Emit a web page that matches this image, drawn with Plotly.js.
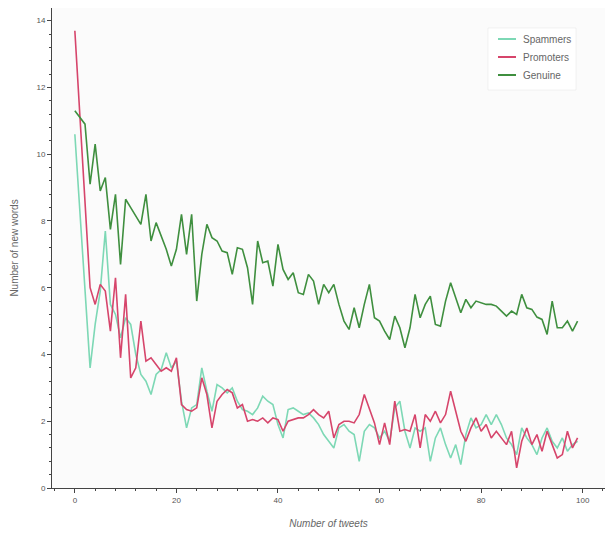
<!DOCTYPE html>
<html>
<head>
<meta charset="utf-8">
<script src="https://cdn.plot.ly/plotly-3.0.1.min.js"></script>
<style>html,body{margin:0;padding:0;background:#fff;}#chart{width:607px;height:535px;}</style>
</head>
<body>
<div id="chart"></div>
<script>
var tweets = [];
for (var k = 0; k < 100; k++) tweets.push(k);

var seriesNames = ["Spammers", "Promoters", "Genuine"];

var spammers = [10.6,8.3,6.0,3.6,4.9,5.9,7.7,5.5,5.2,4.5,
5.1,4.9,4.0,3.4,3.2,2.8,3.4,3.55,4.05,3.6,
3.8,2.6,1.8,2.4,2.5,3.6,2.9,2.3,3.1,3.0,
2.85,3.0,2.6,2.35,2.3,2.2,2.4,2.75,2.6,2.5,
1.9,1.5,2.35,2.4,2.3,2.2,2.25,2.1,1.9,1.6,
1.4,1.2,1.8,1.9,1.7,1.6,0.8,1.7,1.9,1.8,
1.5,1.7,1.4,2.4,2.6,1.7,1.2,1.8,1.7,1.8,
0.8,1.5,1.8,1.3,0.9,1.3,0.7,1.6,2.1,1.8,
1.9,2.2,1.9,2.2,1.9,1.5,1.3,1.0,1.8,1.5,
1.3,1.0,1.5,1.8,1.4,1.2,1.5,1.1,1.3,1.4];

var promoters = [13.7,11.2,8.6,6.0,5.5,6.1,5.9,4.7,6.3,3.9,
5.8,3.3,3.6,5.0,3.8,3.9,3.7,3.5,3.6,3.5,
3.9,2.5,2.35,2.3,2.4,3.3,2.8,1.8,2.6,2.8,
2.95,2.85,2.4,2.5,2.0,2.05,2.0,2.1,1.95,2.1,
2.05,1.7,2.0,2.05,2.1,2.1,2.2,2.35,2.2,2.1,
2.3,1.5,1.9,2.0,2.0,1.95,2.2,2.8,2.4,1.95,
1.3,1.95,1.3,2.6,1.7,1.75,1.7,2.2,1.2,2.2,
2.0,2.3,1.95,2.2,2.9,2.3,1.7,1.4,1.8,2.1,
1.7,1.9,1.5,1.7,1.5,1.3,1.7,0.6,1.4,1.8,
1.3,1.6,1.1,1.7,1.3,0.9,1.0,1.7,1.2,1.5];

var genuine = [11.3,11.1,10.9,9.1,10.3,8.9,9.3,7.75,8.8,6.7,
8.65,8.4,8.15,7.9,8.8,7.4,7.95,7.55,7.15,6.65,
7.15,8.2,7.0,8.2,5.6,7.0,7.9,7.5,7.4,7.1,
7.05,6.4,7.2,7.15,6.6,5.5,7.4,6.75,6.8,6.05,
7.3,6.55,6.25,6.45,5.85,5.8,6.4,6.2,5.5,6.1,
5.85,6.1,5.5,5.0,4.75,5.4,4.8,5.5,6.1,5.1,
5.0,4.7,4.45,5.15,4.8,4.2,4.8,5.8,5.1,5.5,
5.75,4.9,4.85,5.6,6.15,5.7,5.25,5.65,5.4,5.6,
5.55,5.5,5.5,5.45,5.3,5.15,5.3,5.2,5.8,5.4,
5.35,5.12,5.05,4.6,5.6,4.8,4.8,5.0,4.7,5.0];

var xTickVals = [0,20,40,60,80,100];
var yTickVals = [0,2,4,6,8,10,12,14];

var colors = ["#7dd8b5", "#d6456b", "#3f8f3f"];
var data = [spammers, promoters, genuine].map(function (vals, idx) {
  return {
    x: tweets, y: vals, type: "scatter", mode: "lines",
    name: seriesNames[idx], showlegend: false,
    line: {color: colors[idx], width: 1.6}
  };
});

// legend drawn in paper coordinates
var legendY = [0.9354, 0.8979, 0.8604];
var shapes = [{
  type: "rect", xref: "paper", yref: "paper",
  x0: 0.7884, x1: 0.9476, y0: 0.8292, y1: 0.9583,
  fillcolor: "#ffffff", line: {color: "rgba(0,0,0,0.05)", width: 1}, layer: "above"
}];
var annotations = [];
seriesNames.forEach(function (nm, idx) {
  shapes.push({
    type: "line", xref: "paper", yref: "paper",
    x0: 0.8065, x1: 0.8391, y0: legendY[idx], y1: legendY[idx],
    line: {color: colors[idx], width: 2}, layer: "above"
  });
  annotations.push({
    xref: "paper", yref: "paper", x: 0.8481, y: legendY[idx],
    xanchor: "left", yanchor: "middle", showarrow: false, text: nm,
    font: {family: "Liberation Sans, Arial, sans-serif", size: 10, color: "#666"}
  });
});

var axisFont = {family: "Liberation Sans, Arial, sans-serif", size: 8, color: "#555"};
var layout = {
  width: 607, height: 535,
  margin: {l: 52, r: 2, t: 8, b: 47},
  paper_bgcolor: "#ffffff",
  plot_bgcolor: "#fbfbfb",
  showlegend: false,
  shapes: shapes,
  annotations: annotations,
  xaxis: {
    range: [-4.5, 104.4],
    tickvals: xTickVals,
    ticks: "outside", ticklen: 4, tickcolor: "#444",
    showline: true, linecolor: "#444", linewidth: 1,
    showgrid: false, zeroline: false,
    tickfont: axisFont,
    minor: {dtick: 4, tick0: 0, ticks: "outside", ticklen: 2, tickcolor: "#444", showgrid: false},
    title: {text: "Number of tweets", font: {family: "Liberation Sans, Arial, sans-serif", size: 10, color: "#666", style: "italic"}, standoff: 16}
  },
  yaxis: {
    range: [0, 14.38],
    tickvals: yTickVals,
    ticks: "outside", ticklen: 4, tickcolor: "#444",
    showline: true, linecolor: "#444", linewidth: 1,
    showgrid: false, zeroline: false,
    tickfont: axisFont,
    minor: {dtick: 0.4, tick0: 0, ticks: "outside", ticklen: 2, tickcolor: "#444", showgrid: false},
    title: {text: "Number of new words", font: {family: "Liberation Sans, Arial, sans-serif", size: 10, color: "#666"}, standoff: 15}
  }
};

Plotly.newPlot("chart", data, layout, {displayModeBar: false, staticPlot: true});
</script>
</body>
</html>
